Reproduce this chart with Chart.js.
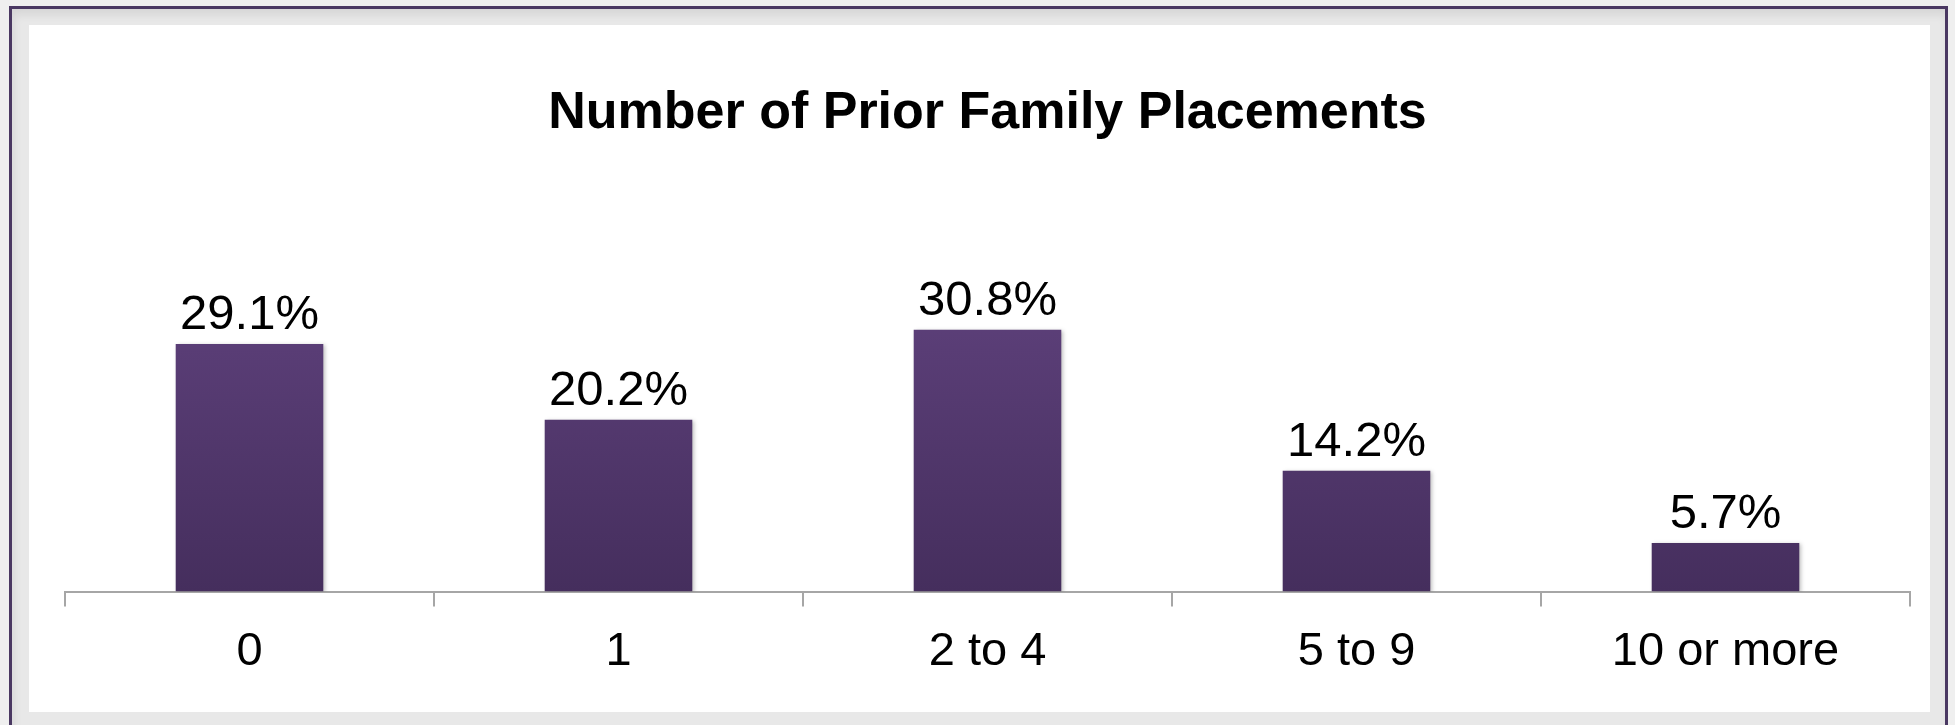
<!DOCTYPE html>
<html lang="en">
<head>
  <meta charset="UTF-8" />
  <title>Number of Prior Family Placements</title>
  <script src="https://cdn.jsdelivr.net/npm/chart.js"></script>
  <style>
    html, body {
      margin: 0;
      padding: 0;
      width: 1955px;
      height: 725px;
      overflow: hidden;
      background: #efefef;
    }
    .frame {
      position: absolute;
      left: 9px;
      top: 6px;
      width: 1933px;
      height: 800px;
      border: 3px solid #4a3862;
      background: #e8e8e8;
      box-shadow: inset 2px 6px 8px rgba(0,0,0,0.08);
    }
    .panel {
      position: absolute;
      left: 29px;
      top: 25px;
      width: 1901px;
      height: 687px;
      background: #ffffff;
    }
  </style>
</head>
<body>

<div class="frame"></div>
<div class="panel">
  <canvas id="placements" width="1901" height="687"></canvas>
</div>

<script>
  const categories = ["0", "1", "2 to 4", "5 to 9", "10 or more"];
  const percents = [29.1, 20.2, 30.8, 14.2, 5.7];

  // vertical gradient on each bar, like the original
  function barFill(context) {
    const area = context.chart.chartArea;
    if (!area) return '#553a74';
    const g = context.chart.ctx.createLinearGradient(0, area.top, 0, area.bottom);
    g.addColorStop(0, '#61437f');
    g.addColorStop(1, '#452e5d');
    return g;
  }

  const barShadow = {
    id: 'barShadow',
    beforeDatasetsDraw(chart) {
      const ctx = chart.ctx;
      ctx.save();
      ctx.shadowColor = 'rgba(0,0,0,0.25)';
      ctx.shadowBlur = 4;
      ctx.shadowOffsetX = 2;
      ctx.shadowOffsetY = 1;
    },
    afterDatasetsDraw(chart) {
      chart.ctx.restore();
    }
  };

  const valueLabels = {
    id: 'valueLabels',
    afterDatasetsDraw(chart) {
      const ctx = chart.ctx;
      const meta = chart.getDatasetMeta(0);
      ctx.save();
      ctx.font = '49px "Liberation Sans", Arial, sans-serif';
      ctx.fillStyle = '#000000';
      ctx.textAlign = 'center';
      ctx.textBaseline = 'alphabetic';
      meta.data.forEach((bar, i) => {
        ctx.fillText(percents[i].toFixed(1) + '%', bar.x, bar.y - 15);
      });
      ctx.restore();
    }
  };

  new Chart(document.getElementById('placements'), {
    type: 'bar',
    data: {
      labels: categories,
      datasets: [{
        data: percents,
        backgroundColor: barFill,
        borderWidth: 0,
        categoryPercentage: 1.0,
        barPercentage: 0.4
      }]
    },
    options: {
      responsive: false,
      animation: false,
      layout: {
        padding: { left: 36, right: 20, top: 0, bottom: 15 }
      },
      plugins: {
        legend: { display: false },
        tooltip: { enabled: false },
        title: {
          display: true,
          text: 'Number of Prior Family Placements',
          color: '#000000',
          font: { family: '"Liberation Sans", Arial, sans-serif', size: 52, weight: 'bold' },
          padding: { top: 57, bottom: 107 }
        }
      },
      scales: {
        x: {
          offset: true,
          grid: {
            display: true,
            offset: true,
            drawOnChartArea: false,
            drawTicks: true,
            tickLength: 15,
            color: '#a6a6a6',
            lineWidth: 2
          },
          border: { display: true, color: '#a6a6a6', width: 2 },
          ticks: {
            color: '#000000',
            padding: 17,
            font: { family: '"Liberation Sans", Arial, sans-serif', size: 47 }
          }
        },
        y: {
          display: false,
          min: 0,
          max: 40
        }
      }
    },
    plugins: [barShadow, valueLabels]
  });
</script>

</body>
</html>
